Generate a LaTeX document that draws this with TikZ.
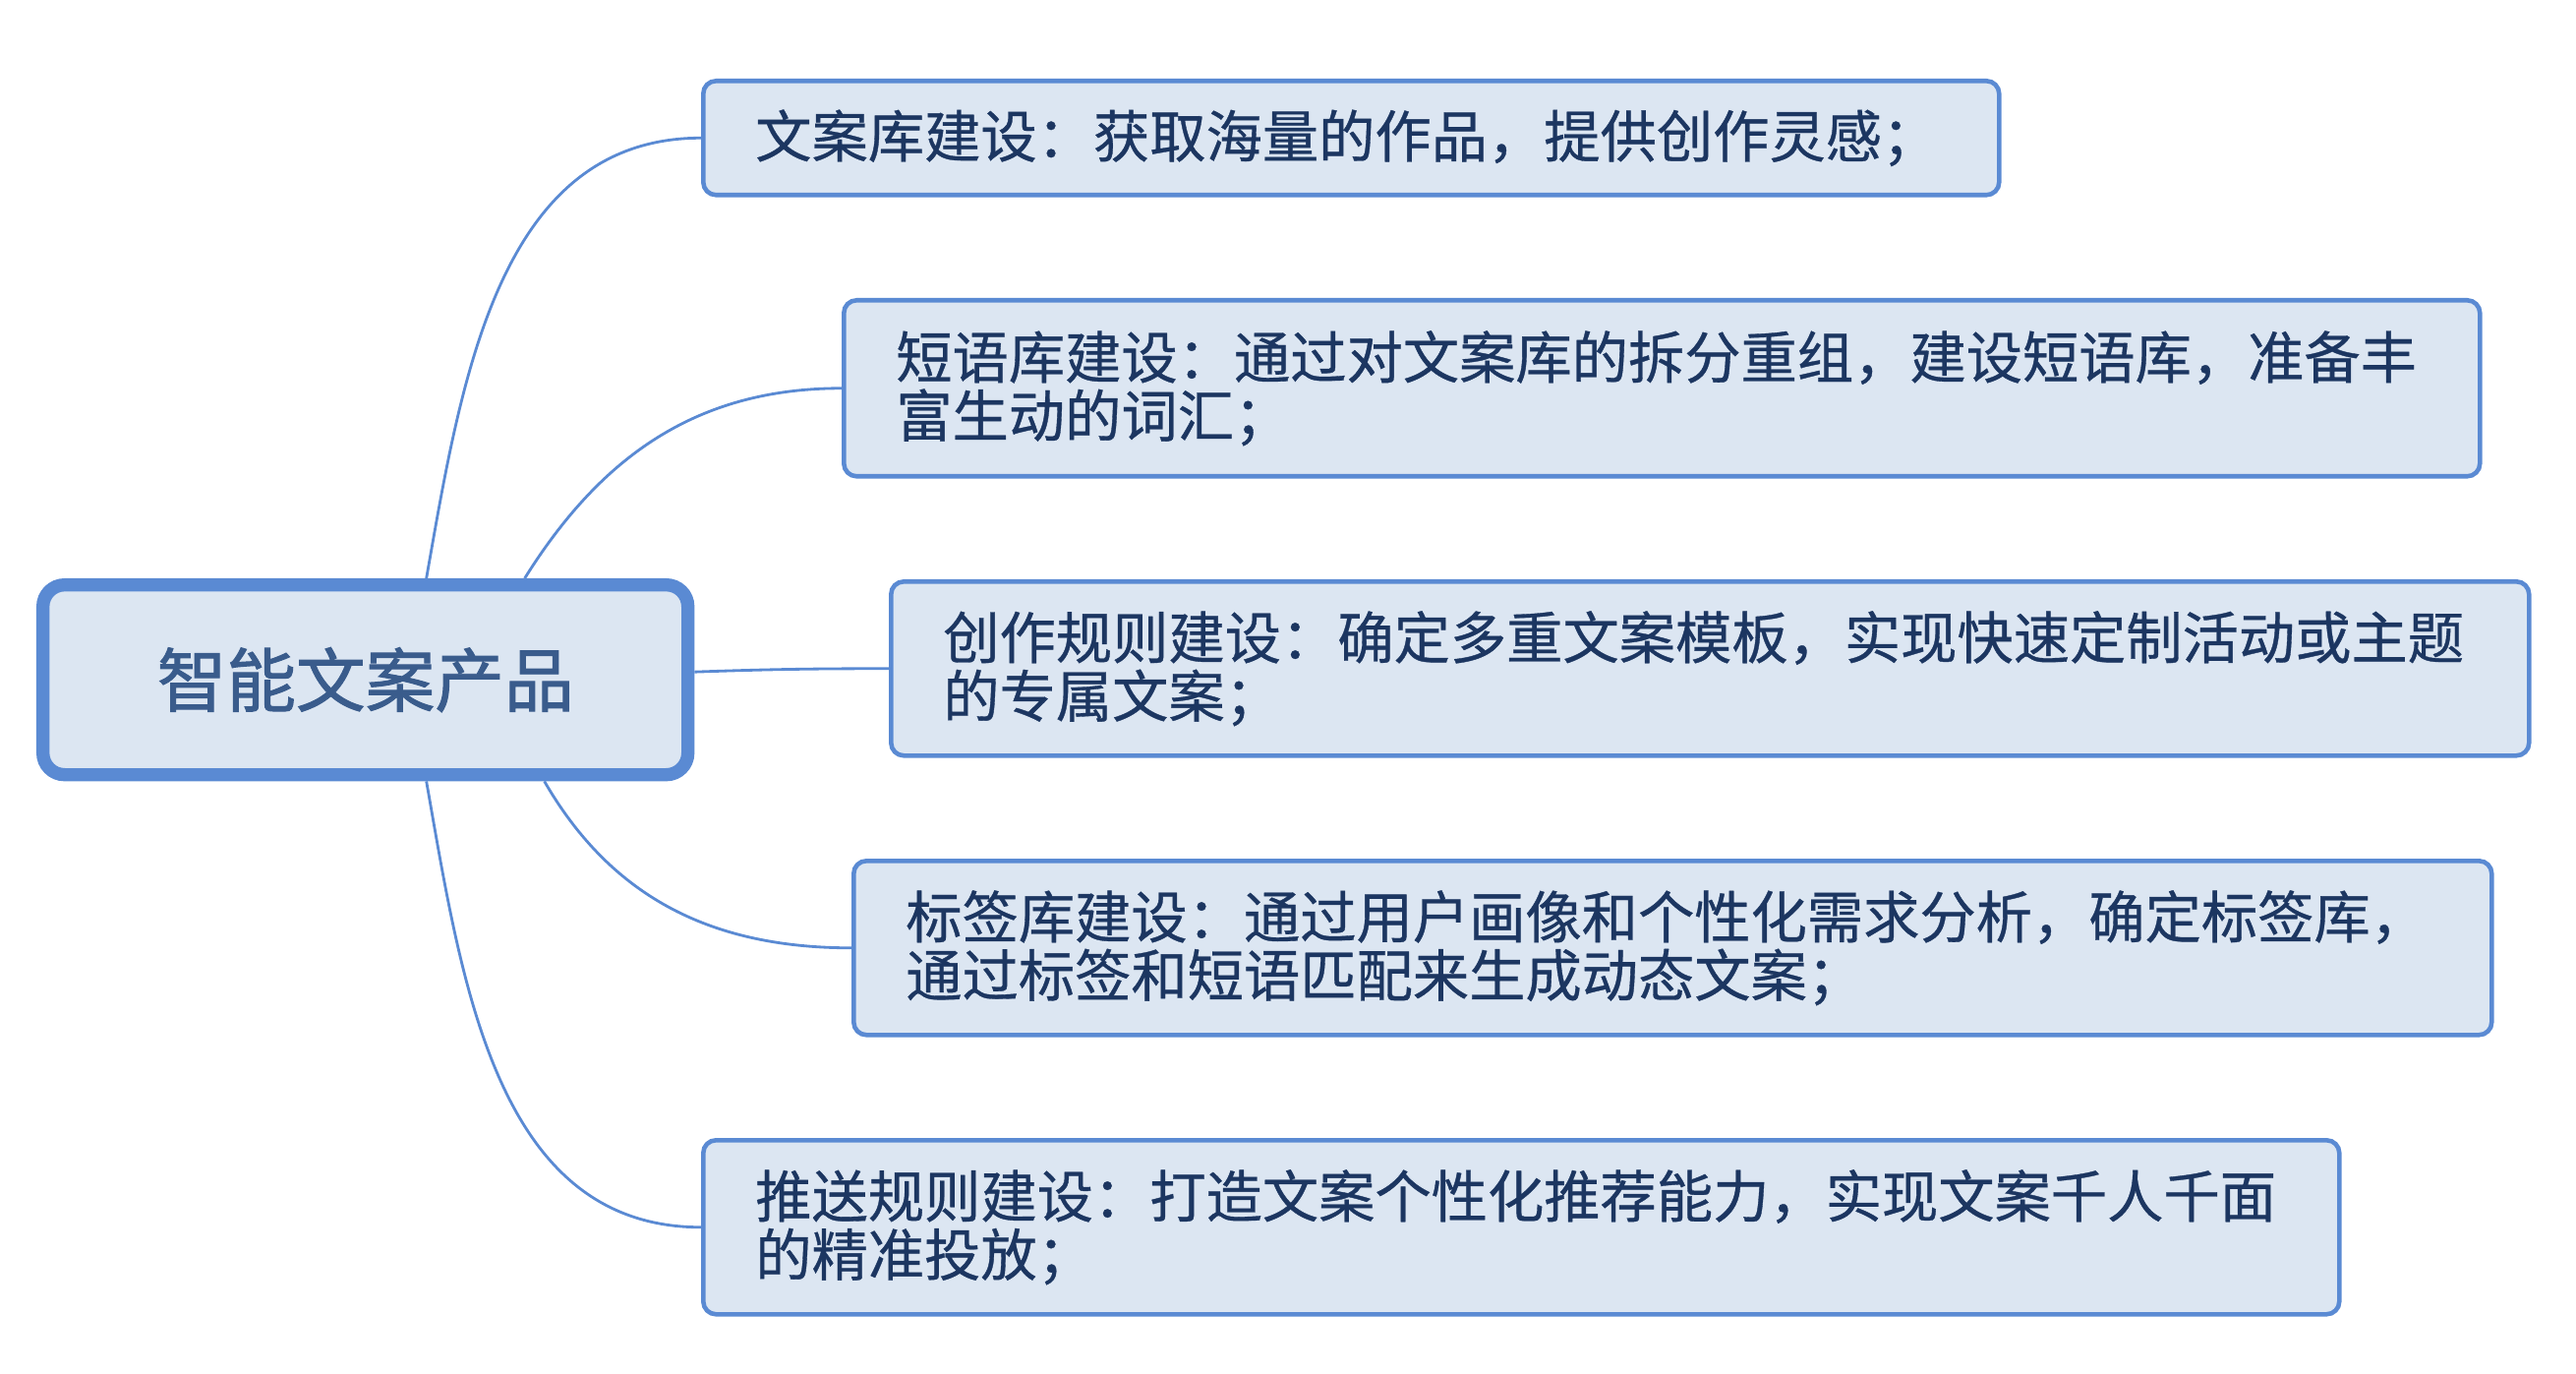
\documentclass[tikz,border=0pt]{standalone}
\usepackage{fontspec}
\setmainfont{Noto Sans CJK SC}
\newfontfamily\topicfont[FakeBold=0.6]{Noto Sans CJK SC}
\newfontfamily\rootfont[FakeBold=1.4]{Noto Sans CJK SC}
\usetikzlibrary{positioning}
\definecolor{boxfill}{HTML}{DCE6F2}
\definecolor{boxline}{HTML}{5A8AD3}
\definecolor{subtext}{HTML}{1C3661}
\definecolor{maintext}{HTML}{3A5C8C}
\begin{document}
\begin{tikzpicture}[x=1.0cm,y=1.0cm,
	topic/.style={draw=boxline,fill=boxfill,line width=1.3pt,rounded corners=0.13cm,anchor=north west,inner xsep=0.53cm,inner ysep=0pt,align=left,text=subtext,font=\topicfont\fontsize{16.3}{16.9}\selectfont},
	root/.style={draw=boxline,fill=boxfill,line width=3.8pt,rounded corners=0.22cm,anchor=north west,minimum width=6.56cm,minimum height=1.93cm,text=maintext,font=\rootfont\fontsize{20.1}{24}\selectfont},
	branch/.style={draw=boxline,line width=0.8pt}]
	\useasboundingbox (0,0) rectangle (26.2,13.96);
	\node[root] (prod) at (0.37,8.08) {智能文案产品};
	\node[topic,text width=12.12cm,minimum height=1.16cm] (wak) at (7.13,13.16) {文案库建设：获取海量的作品，提供创作灵感；};
	\node[topic,text width=15.58cm,minimum height=1.79cm] (dyk) at (8.56,10.93) {短语库建设：通过对文案库的拆分重组，建设短语库，准备丰\\富生动的词汇；};
	\node[topic,text width=15.60cm,minimum height=1.77cm] (czgz) at (9.04,8.07) {创作规则建设：确定多重文案模板，实现快速定制活动或主题\\的专属文案；};
	\node[topic,text width=15.60cm,minimum height=1.77cm] (bqk) at (8.66,5.23) {标签库建设：通过用户画像和个性化需求分析，确定标签库，\\通过标签和短语匹配来生成动态文案；};
	\node[topic,text width=15.58cm,minimum height=1.77cm] (tsgz) at (7.13,2.39) {推送规则建设：打造文案个性化推荐能力，实现文案千人千面\\的精准投放；};
	\draw[branch] ([xshift=0.62cm]prod.north) to[out=80,in=180] (wak.west);
	\draw[branch] ([xshift=1.62cm]prod.north) to[out=58,in=180] (dyk.west);
	\draw[branch] ([yshift=0.08cm]prod.east) to[out=2,in=180] (czgz.west);
	\draw[branch] ([xshift=1.82cm]prod.south) to[out=-60,in=180] (bqk.west);
	\draw[branch] ([xshift=0.62cm]prod.south) to[out=-80,in=180] (tsgz.west);
\end{tikzpicture}
\end{document}
